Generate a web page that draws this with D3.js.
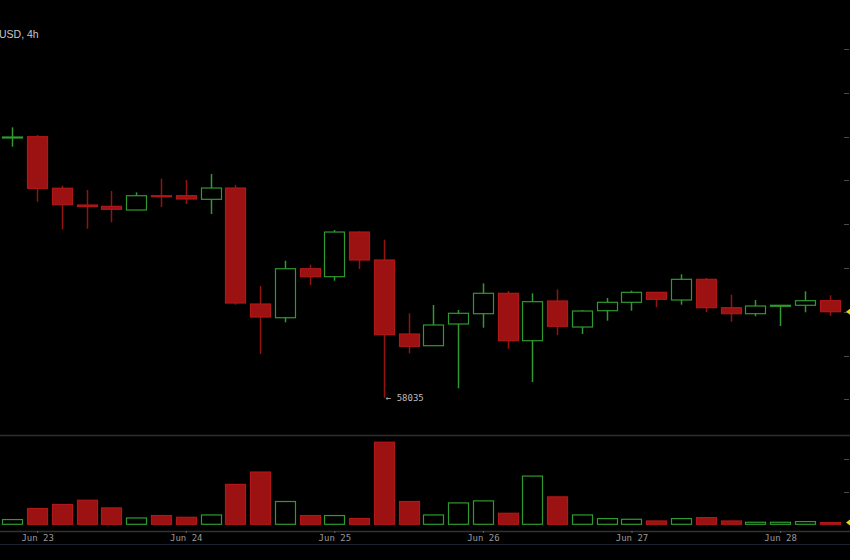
<!DOCTYPE html>
<html><head><meta charset="utf-8">
<script src="https://cdn.jsdelivr.net/npm/d3@7"></script>
<style>html,body{margin:0;padding:0;background:#000;overflow:hidden}svg{display:block}</style>
</head><body>
<script>
const times = ["2024-06-22T20:00","2024-06-23T00:00","2024-06-23T04:00","2024-06-23T08:00","2024-06-23T12:00","2024-06-23T16:00","2024-06-23T20:00",
"2024-06-24T00:00","2024-06-24T04:00","2024-06-24T08:00","2024-06-24T12:00","2024-06-24T16:00","2024-06-24T20:00",
"2024-06-25T00:00","2024-06-25T04:00","2024-06-25T08:00","2024-06-25T12:00","2024-06-25T16:00","2024-06-25T20:00",
"2024-06-26T00:00","2024-06-26T04:00","2024-06-26T08:00","2024-06-26T12:00","2024-06-26T16:00","2024-06-26T20:00",
"2024-06-27T00:00","2024-06-27T04:00","2024-06-27T08:00","2024-06-27T12:00","2024-06-27T16:00","2024-06-27T20:00",
"2024-06-28T00:00","2024-06-28T04:00","2024-06-28T08:00"];
const opens  = [63980,63997,62820,62437,62407,62323,62649,62650,62567,62825,60176,59863,60982,60800,61820,61181,59491,59224,59720,59955,60421,59338,60245,59651,60023,60215,60443,60268,60740,60092,59955,60131,60147,60252];
const highs  = [64211,64036,62878,62780,62757,62727,63038,63008,63145,62894,60587,61165,61074,61866,61836,61645,59964,60153,60039,60649,60473,60421,60512,60039,60313,60480,60445,60855,60770,60389,60268,60155,60466,60375];
const lows   = [63768,62512,61882,61896,62042,62320,62391,62460,62232,60160,59034,59758,60610,60708,60976,58035,59050,59220,58251,59635,59155,58395,59468,59491,59795,60023,60101,60160,59994,59772,59895,59674,59987,59902];
const closes = [63990,62818,62444,62403,62339,62649,62627,62574,62825,60199,59879,60982,60800,61820,61181,59475,59210,59697,59964,60421,59338,60229,59667,60016,60215,60443,60284,60740,60092,59955,60131,60147,60252,60000];
const volumes = [145,483,606,738,502,194,268,215,286,1222,1600,698,268,268,175,2514,698,286,655,717,338,1477,840,286,175,154,102,175,206,102,62,62,83,52];
const dayTicks = ["2024-06-23","2024-06-24","2024-06-25","2024-06-26","2024-06-27","2024-06-28"];
const priceTicks = [58000,59000,60000,61000,62000,63000,64000,65000,66000];
const volumeTicks = [1000,2000];
const title = "USD, 4h";
const lowLabel = "← 58035";

const W = 850, H = 560;
const parse = d3.utcParse("%Y-%m-%dT%H:%M");
const parseDay = d3.utcParse("%Y-%m-%d");
const data = times.map((t,i)=>({t:parse(t),o:opens[i],h:highs[i],l:lows[i],c:closes[i],v:volumes[i]}));

const svg = d3.select("body").append("svg").attr("width",W).attr("height",H);
svg.append("rect").attr("width",W).attr("height",H).attr("fill","#000");

const x = d3.scaleUtc().domain([data[0].t, data[data.length-1].t]).range([12.4, 829.6]);
const y = d3.scaleLinear().domain([58000,66000]).range([399.3,49]);
const yv = d3.scaleLinear().domain([0,2000]).range([524.3,459]);

const RED_FILL="#9c1111", RED_STROKE="#b01818", RED_WICK="#951212";
const GREEN="#2f9a2f";
const bw = 20;

// price right ticks
svg.append("g").selectAll("line").data(priceTicks).join("line")
  .attr("x1",844).attr("x2",849).attr("y1",d=>Math.round(y(d))+0.5).attr("y2",d=>Math.round(y(d))+0.5)
  .attr("stroke","#4a4a4a");
svg.append("g").selectAll("line").data(volumeTicks).join("line")
  .attr("x1",844).attr("x2",849).attr("y1",d=>Math.round(yv(d))+0.5).attr("y2",d=>Math.round(yv(d))+0.5)
  .attr("stroke","#4a4a4a");

// separators
svg.append("line").attr("x1",0).attr("x2",W).attr("y1",435.5).attr("y2",435.5).attr("stroke","#2e2e2e").attr("stroke-width",1.5);

// candles
const g = svg.append("g");
const cs = g.selectAll("g.c").data(data).join("g");
cs.append("line")
  .attr("x1",d=>Math.round(x(d.t))+0.5).attr("x2",d=>Math.round(x(d.t))+0.5)
  .attr("y1",d=>y(d.h)).attr("y2",d=>y(d.l))
  .attr("stroke",d=>d.c>=d.o?GREEN:RED_WICK).attr("stroke-width",1.5);
cs.append("rect")
  .attr("x",d=>Math.round(x(d.t))-bw/2+0.5)
  .attr("width",bw)
  .attr("y",d=>y(Math.max(d.o,d.c)))
  .attr("height",d=>Math.max(1,Math.abs(y(d.o)-y(d.c))))
  .attr("fill",d=>d.c>=d.o?"#000":RED_FILL)
  .attr("stroke",d=>d.c>=d.o?GREEN:RED_STROKE)
  .attr("stroke-width",1.2);

// volumes
svg.append("g").selectAll("rect").data(data).join("rect")
  .attr("x",d=>Math.round(x(d.t))-bw/2+0.5)
  .attr("width",bw)
  .attr("y",d=>yv(d.v))
  .attr("height",d=>Math.max(1,yv(0)-yv(d.v)))
  .attr("fill",d=>d.c>=d.o?"#000":RED_FILL)
  .attr("stroke",d=>d.c>=d.o?GREEN:RED_STROKE)
  .attr("stroke-width",1.2);

// x axis
const xa = svg.append("g").attr("transform","translate(0,531)")
  .call(d3.axisBottom(x).tickValues(dayTicks.map(parseDay)).tickFormat(d3.utcFormat("%b %d")).tickSize(2).tickPadding(2));
xa.select(".domain").attr("d","M0,0.5H"+W).attr("stroke","#333").attr("stroke-width",1.5);
xa.selectAll(".tick line").attr("stroke","#666");
xa.selectAll(".tick text").attr("fill","#9a9a9a").attr("font-family","DejaVu Sans Mono").attr("font-size",9);
svg.append("line").attr("x1",0).attr("x2",W).attr("y1",544.5).attr("y2",544.5).attr("stroke","#1a2232").attr("stroke-width",1);

// last price markers
const last = data[data.length-1];
const tri = (yy)=>`M846,${yy} L850,${yy-3} L850,${yy+3} Z`;
svg.append("path").attr("d",tri(y(last.c))).attr("fill","#e6d800");
svg.append("path").attr("d",tri(yv(last.v))).attr("fill","#e6d800");

// title
svg.append("text").attr("x",-1).attr("y",38).text(title)
  .attr("fill","#c8c8c8").attr("font-family","Liberation Sans, Arial, sans-serif").attr("font-size",10.5);

// low label
const lowD = data.reduce((a,b)=>b.l<a.l?b:a);
svg.append("text").attr("x",x(lowD.t)+2).attr("y",y(lowD.l)+3.5).text(lowLabel)
  .attr("fill","#bdbdbd").attr("font-family","DejaVu Sans Mono").attr("font-size",9);
</script>
</body></html>
